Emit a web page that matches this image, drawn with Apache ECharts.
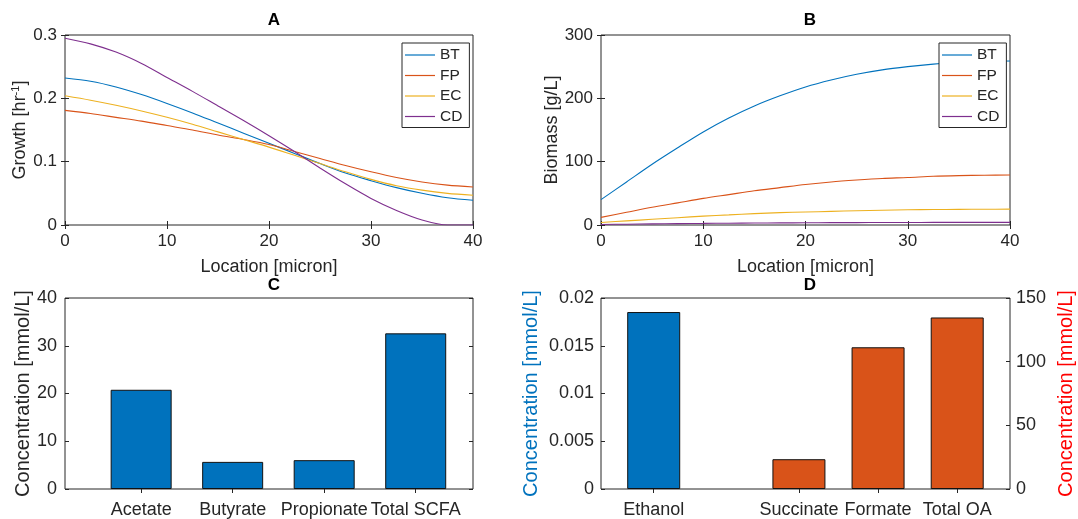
<!DOCTYPE html>
<html>
<head>
<meta charset="utf-8">
<script src="https://cdn.jsdelivr.net/npm/echarts@6/dist/echarts.min.js"></script>
<style>
  html, body { margin: 0; padding: 0; background: #fff; }
  #chart { width: 1078px; height: 519px; }
</style>
</head>
<body>
<div id="chart"></div>
<script>
// location along the layer [micron]
var locX = [0, 2.5, 5, 7.5, 10, 12.5, 15, 17.5, 20, 22.5, 25, 27.5, 30, 32.5, 35, 37.5, 40];

// A: growth [hr^-1]
var growthBT = [0.232, 0.227, 0.218, 0.206, 0.192, 0.177, 0.161, 0.145, 0.129, 0.113, 0.097, 0.082, 0.070, 0.059, 0.050, 0.043, 0.039];
var growthFP = [0.181, 0.176, 0.170, 0.164, 0.157, 0.150, 0.142, 0.135, 0.127, 0.116, 0.105, 0.094, 0.084, 0.075, 0.068, 0.063, 0.060];
var growthEC = [0.204, 0.197, 0.189, 0.180, 0.170, 0.159, 0.147, 0.135, 0.123, 0.110, 0.097, 0.084, 0.072, 0.062, 0.055, 0.050, 0.047];
var growthCD = [0.295, 0.286, 0.273, 0.255, 0.233, 0.211, 0.188, 0.165, 0.141, 0.116, 0.090, 0.065, 0.042, 0.023, 0.008, 0.000, 0.000];

// B: biomass [g/L]
var biomassBT = [40, 68, 96, 122, 147, 169, 188, 204, 218, 229, 238, 245, 250, 254, 257, 258.5, 259];
var biomassFP = [12, 20, 28, 35, 42, 48, 54, 59, 64, 68, 71, 73.5, 75, 77, 78, 78.5, 79];
var biomassEC = [4, 6.5, 9, 11.5, 14, 16, 18, 19.5, 20.5, 21.5, 22.5, 23.3, 24, 24.4, 24.7, 24.9, 25];
var biomassCD = [0.8, 1.3, 1.8, 2.2, 2.5, 2.8, 3.1, 3.3, 3.5, 3.7, 3.8, 3.9, 4.0, 4.1, 4.1, 4.2, 4.2];

// C: short chain fatty acids [mmol/L]
var scfaNames = ['Acetate', 'Butyrate', 'Propionate', 'Total SCFA'];
var scfaSlots = [1, 2, 3, 4];
var scfaValues = [20.78, 5.68, 6.04, 32.6];

// D: ethanol (left axis) and organic acids (right axis) [mmol/L]
var oaNames = ['Ethanol', 'Succinate', 'Formate', 'Total OA'];
var oaSlots = [1.165, 3, 4, 5];
var ethanolValue = [0.01853];
var acidValues = [23.4, 111.3, 134.7];

var speciesNames = ['BT', 'FP', 'EC', 'CD'];
var speciesColors = ['#0072BD', '#D95319', '#EDB120', '#7E2F8E'];

var ink = '#262626';
var font = '"Liberation Sans", Arial, Helvetica, sans-serif';

function pairs(xs, ys) {
    return xs.map(function (x, i) { return [x, ys[i]]; });
}

// bottom/left axis with labels, ticks pointing inward
function mainAxis(grid, opts) {
    var a = {
        type: 'value',
        gridIndex: grid,
        axisLine: { show: false },
        axisTick: { show: true, inside: true, length: 4, lineStyle: { color: ink, width: 1 } },
        splitLine: { show: false },
        axisLabel: { color: ink, fontSize: 17, fontFamily: font, margin: 8 },
        nameLocation: 'middle',
        nameTextStyle: { color: ink, fontSize: 18, fontFamily: font }
    };
    return Object.assign(a, opts);
}

// opposite side: ticks only (MATLAB box)
function tickAxis(grid, opts) {
    var a = {
        type: 'value',
        gridIndex: grid,
        axisLine: { show: false },
        axisTick: { show: true, inside: true, length: 4, lineStyle: { color: ink, width: 1 } },
        splitLine: { show: false },
        axisLabel: { show: false }
    };
    return Object.assign(a, opts);
}

var supRich = { sup: { fontSize: 11, fontFamily: font, color: ink, verticalAlign: 'top', padding: [0, 0, 9, 0] } };

var lineSeries = [];
[growthBT, growthFP, growthEC, growthCD].forEach(function (arr, i) {
    lineSeries.push({
        name: speciesNames[i], type: 'line', xAxisIndex: 0, yAxisIndex: 0,
        data: pairs(locX, arr), showSymbol: false, symbol: 'none', smooth: 0.3,
        lineStyle: { color: speciesColors[i], width: 1.1 }, itemStyle: { color: speciesColors[i] }
    });
});
[biomassBT, biomassFP, biomassEC, biomassCD].forEach(function (arr, i) {
    lineSeries.push({
        name: speciesNames[i], type: 'line', xAxisIndex: 2, yAxisIndex: 2,
        data: pairs(locX, arr), showSymbol: false, symbol: 'none', smooth: 0.3,
        lineStyle: { color: speciesColors[i], width: 1.1 }, itemStyle: { color: speciesColors[i] }
    });
});

var legendBase = {
    orient: 'vertical',
    data: speciesNames,
    icon: 'rect',
    itemWidth: 30,
    itemHeight: 1.2,
    itemGap: 4.5,
    padding: [4, 7, 3, 3],
    borderColor: ink,
    borderWidth: 1,
    backgroundColor: '#fff',
    textStyle: { color: ink, fontSize: 15.5, fontFamily: font, lineHeight: 16 },
    selectedMode: false
};

var titleStyle = { fontSize: 17, fontWeight: 'bold', color: '#000', fontFamily: font };

var option = {
    animation: false,
    backgroundColor: '#fff',
    title: [
        { text: 'A', left: 269, top: 7, textAlign: 'center', textStyle: titleStyle },
        { text: 'B', left: 805, top: 7, textAlign: 'center', textStyle: titleStyle },
        { text: 'C', left: 269, top: 272, textAlign: 'center', textStyle: titleStyle },
        { text: 'D', left: 805, top: 272, textAlign: 'center', textStyle: titleStyle }
    ],
    legend: [
        Object.assign({ left: 402, top: 43 }, legendBase),
        Object.assign({ left: 939, top: 43 }, legendBase)
    ],
    grid: [
        { left: 65, top: 35, width: 408, height: 190, show: true, borderColor: ink, borderWidth: 1 },
        { left: 601, top: 35, width: 409, height: 190, show: true, borderColor: ink, borderWidth: 1 },
        { left: 65, top: 298, width: 408, height: 191, show: true, borderColor: ink, borderWidth: 1 },
        { left: 601, top: 298, width: 409, height: 191, show: true, borderColor: ink, borderWidth: 1 }
    ],
    xAxis: [
        mainAxis(0, { min: 0, max: 40, interval: 10, name: 'Location [micron]', nameGap: 33 }),
        tickAxis(0, { min: 0, max: 40, interval: 10, position: 'top' }),
        mainAxis(1, { min: 0, max: 40, interval: 10, name: 'Location [micron]', nameGap: 33 }),
        tickAxis(1, { min: 0, max: 40, interval: 10, position: 'top' }),
        mainAxis(2, {
            min: 0.168, max: 4.626,
            axisTick: { show: true, inside: true, length: 4, customValues: scfaSlots, lineStyle: { color: ink } },
            axisLabel: {
                customValues: scfaSlots, color: ink, fontSize: 18, fontFamily: font, margin: 12,
                formatter: function (v) { return scfaNames[scfaSlots.indexOf(v)]; }
            }
        }),
        tickAxis(2, {
            min: 0.168, max: 4.626, position: 'top',
            axisTick: { show: true, inside: true, length: 4, customValues: scfaSlots, lineStyle: { color: ink } }
        }),
        mainAxis(3, {
            min: 0.499, max: 5.667,
            axisTick: { show: false },
            axisLabel: {
                customValues: oaSlots, color: ink, fontSize: 18, fontFamily: font, margin: 12,
                formatter: function (v) { return oaNames[oaSlots.indexOf(v)]; }
            }
        }),
        tickAxis(3, {
            min: 0.499, max: 5.667, position: 'top',
            axisTick: { show: true, inside: true, length: 4, customValues: oaSlots, lineStyle: { color: ink } }
        })
    ],
    yAxis: [
        mainAxis(0, {
            min: 0, max: 0.3, interval: 0.1, name: 'Growth [hr{sup|-1}]', nameGap: 30, nameRotate: 90,
            nameTextStyle: { color: ink, fontSize: 18, fontFamily: font, rich: supRich }
        }),
        tickAxis(0, { min: 0, max: 0.3, interval: 0.1, position: 'right' }),
        mainAxis(1, { min: 0, max: 300, interval: 100, name: 'Biomass [g/L]', nameGap: 30, nameRotate: 90 }),
        tickAxis(1, { min: 0, max: 300, interval: 100, position: 'right' }),
        mainAxis(2, {
            min: 0, max: 40, interval: 10, name: 'Concentration [mmol/L]', nameGap: 32, nameRotate: 90,
            axisLabel: { color: ink, fontSize: 18, fontFamily: font, margin: 8 },
            nameTextStyle: { color: ink, fontSize: 20, fontFamily: font }
        }),
        tickAxis(2, { min: 0, max: 40, interval: 10, position: 'right' }),
        mainAxis(3, {
            min: 0, max: 0.02, interval: 0.005, name: 'Concentration [mmol/L]', nameGap: 60, nameRotate: 90,
            axisLabel: { color: ink, fontSize: 18, fontFamily: font, margin: 7 },
            nameTextStyle: { color: '#0072BD', fontSize: 20, fontFamily: font }
        }),
        mainAxis(3, {
            min: 0, max: 150, interval: 50, position: 'right', name: 'Concentration [mmol/L]', nameGap: 46, nameRotate: 90,
            axisLabel: { color: ink, fontSize: 18, fontFamily: font, margin: 6 },
            nameTextStyle: { color: '#FF0000', fontSize: 20, fontFamily: font }
        })
    ],
    series: lineSeries.concat([
        {
            name: 'SCFA', type: 'bar', xAxisIndex: 4, yAxisIndex: 4,
            data: pairs(scfaSlots, scfaValues), barWidth: 61,
            itemStyle: { color: '#0072BD', borderColor: '#111', borderWidth: 1 }
        },
        {
            name: 'Ethanol', type: 'bar', xAxisIndex: 6, yAxisIndex: 6,
            data: pairs(oaSlots.slice(0, 1), ethanolValue), barWidth: 53, barGap: '-100%',
            itemStyle: { color: '#0072BD', borderColor: '#111', borderWidth: 1 }
        },
        {
            name: 'Organic acids', type: 'bar', xAxisIndex: 6, yAxisIndex: 7,
            data: pairs(oaSlots.slice(1), acidValues), barWidth: 53, barGap: '-100%',
            itemStyle: { color: '#D95319', borderColor: '#111', borderWidth: 1 }
        }
    ])
};

echarts.init(document.getElementById('chart'), null, { renderer: 'canvas' }).setOption(option);
</script>
</body>
</html>
